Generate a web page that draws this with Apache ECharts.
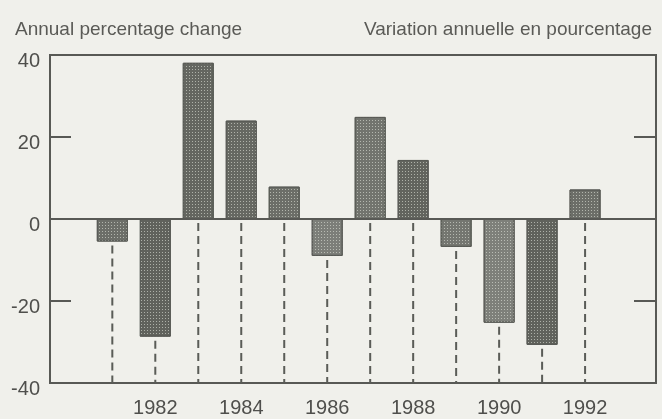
<!DOCTYPE html>
<html>
<head>
<meta charset="utf-8">
<script src="https://cdn.jsdelivr.net/npm/echarts@6/dist/echarts.min.js"></script>
<style>
  html, body { margin: 0; padding: 0; background: #f0f0eb; }
  #chart { width: 662px; height: 419px; }
</style>
</head>
<body>
<div id="chart"></div>
<script>
// data
const years = [1981, 1982, 1983, 1984, 1985, 1986, 1987, 1988, 1989, 1990, 1991, 1992]
const changes = [-5.5, -28.7, 38.1, 24.0, 7.9, -9.0, 24.9, 14.4, -6.8, -25.3, -30.7, 7.2]
const yearLabels = [1982, 1984, 1986, 1988, 1990, 1992]
const yTicks = [-40, -20, 0, 20, 40]

// slight tone differences between the printed bars
const barColors = ['#6c6e68', '#60625c', '#646660', '#666862', '#6c6e68', '#7c7e79',
  '#72746e', '#62645e', '#747670', '#7e807a', '#60625c', '#6c6e68']

const points = years.map((y, i) => [y, changes[i]])

const chart = echarts.init(document.getElementById('chart'))

const fontFamily = 'Liberation Sans, Arial, sans-serif'
const axisText = { color: '#4f4f4c', fontSize: 20, fontFamily }

chart.setOption({
  backgroundColor: '#f0f0eb',
  animation: false,
  title: [
    {
      text: 'Annual percentage change',
      left: 10, top: 15,
      textStyle: { color: '#5a5a56', fontSize: 19, fontWeight: 'normal', fontFamily }
    },
    {
      text: 'Variation annuelle en pourcentage',
      right: 5, top: 15,
      textStyle: { color: '#5a5a56', fontSize: 19, fontWeight: 'normal', fontFamily }
    }
  ],
  grid: {
    left: 50, right: 6, top: 55, bottom: 36,
    show: true, borderColor: '#585955', borderWidth: 2, backgroundColor: 'transparent'
  },
  xAxis: {
    type: 'value',
    min: 1979.55,
    max: 1993.65,
    axisLine: { show: false },
    axisTick: { show: false },
    splitLine: { show: false },
    axisLabel: {
      customValues: yearLabels,
      formatter: v => String(v),
      margin: 15,
      ...axisText
    }
  },
  yAxis: [
    {
      type: 'value', min: -40, max: 40, interval: 20,
      axisLine: { show: false },
      splitLine: { show: false },
      axisTick: { show: true, inside: true, length: 21, customValues: [-20, 20], lineStyle: { color: '#585955', width: 2 } },
      axisLabel: {
        customValues: yTicks,
        margin: 10,
        formatter: v => '{a|' + v + '}',
        rich: { a: { ...axisText, padding: [12, 0, 0, 0] } },
        ...axisText
      }
    },
    {
      type: 'value', min: -40, max: 40, interval: 20, position: 'right',
      axisLine: { show: false },
      splitLine: { show: false },
      axisLabel: { show: false },
      axisTick: { show: true, inside: true, length: 22, customValues: [-20, 20], lineStyle: { color: '#585955', width: 2 } }
    }
  ],
  series: [
    {
      // dashed drop lines from each bar down to the bottom axis
      type: 'custom',
      z: 1,
      data: points,
      renderItem: (params, api) => {
        const x = api.value(0)
        const v = api.value(1)
        const p1 = api.coord([x, Math.min(0, v)])
        const p2 = api.coord([x, -40])
        return {
          type: 'line',
          shape: { x1: p1[0], y1: p1[1] + 4, x2: p2[0], y2: p2[1] },
          style: { stroke: '#5a5c57', lineWidth: 2, lineDash: [8, 5] }
        }
      }
    },
    {
      type: 'bar',
      z: 2,
      barWidth: 31,
      data: points.map((p, i) => ({
        value: p,
        itemStyle: {
          color: barColors[i],
          borderColor: '#585a55',
          borderWidth: 1,
          decal: {
            symbol: 'rect',
            symbolSize: 1,
            dashArrayX: [1, 2],
            dashArrayY: [1, 2],
            color: 'rgba(225,228,218,0.6)'
          }
        }
      })),
      markLine: {
        silent: true,
        symbol: 'none',
        label: { show: false },
        lineStyle: { color: '#585955', width: 2, type: 'solid' },
        data: [{ yAxis: 0 }]
      }
    }
  ]
})
</script>
</body>
</html>
